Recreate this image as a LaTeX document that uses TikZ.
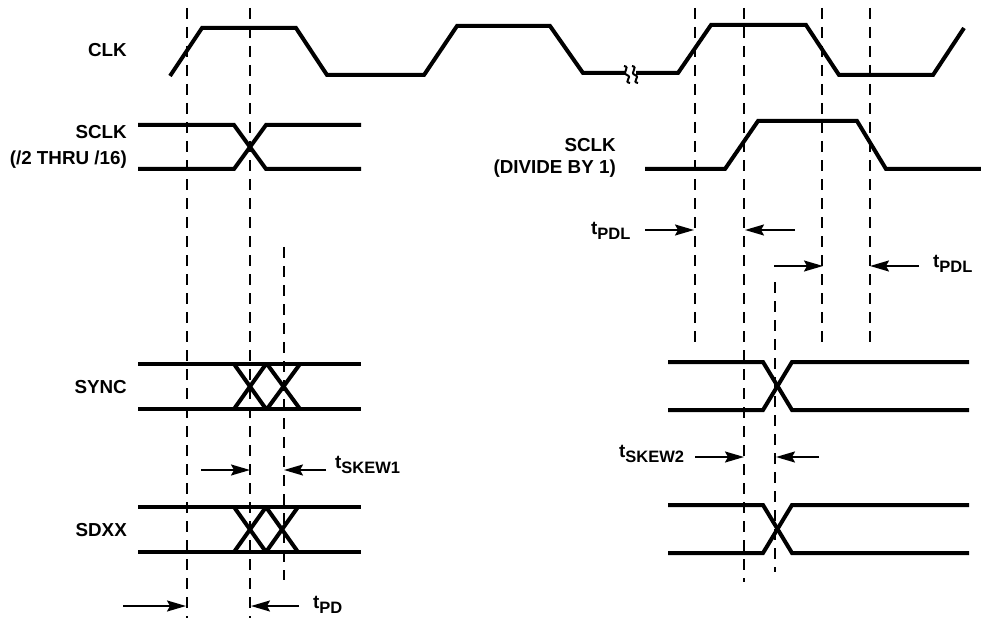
\documentclass[tikz,border=0pt]{standalone}
\usepackage{fontspec}
\setmainfont{Liberation Sans}
\usetikzlibrary{arrows.meta}
\newcommand{\tsub}[1]{t\raisebox{-5bp}{\fontsize{16.5bp}{16.5bp}\selectfont #1}}
\tikzset{
  sig/.style={line width=4bp},
  guide/.style={line width=2bp, dash pattern=on 11bp off 8bp},
  dim/.style={line width=2bp, -{Stealth[length=19bp,width=11bp,inset=3bp]}},
  lab/.style={font=\fontsize{18.8bp}{21bp}\selectfont\bfseries, inner sep=0pt},
  brk/.style={line width=2bp}
}
\begin{document}
\begin{tikzpicture}[x=1bp,y=-1bp]
\useasboundingbox (0,0) rectangle (981,619);
% labels
\node[lab, anchor=base east] (lclk) at (127,57) {CLK};
\node[lab, anchor=base east] (lsclk) at (127,139) {SCLK};
\node[lab, anchor=base east] (lsclkb) at (127,165) {(/2 THRU /16)};
\node[lab, anchor=base east] (lsync) at (127,393) {SYNC};
\node[lab, anchor=base east] (lsdxx) at (127,536) {SDXX};
\node[lab, anchor=base east] (rsclk) at (616,152) {SCLK};
\node[lab, anchor=base east] (rsclkb) at (616,174) {(DIVIDE BY 1)};
\node[lab, anchor=base west] (tpdl1) at (591,235) {\tsub{PDL}};
\node[lab, anchor=base west] (tpdl2) at (933,268) {\tsub{PDL}};
\node[lab, anchor=base west] (tsk1) at (335,468) {\tsub{SKEW1}};
\node[lab, anchor=base west] (tsk2) at (619,457) {\tsub{SKEW2}};
\node[lab, anchor=base west] (tpd) at (313,608) {\tsub{PD}};
% CLK
\draw[sig] (170,76) -- (202,28) -- (296,28) -- (327,75) -- (424,75) -- (457,26) -- (550,26) -- (583,73) -- (625,73);
\draw[sig] (636,73) -- (678,73) -- (711,25) -- (806,25) -- (839,75) -- (933,75) -- (964,28);
\draw[brk] (624,66) .. controls (631,67) and (621,73) .. (627,75) .. controls (633,77) and (623,82) .. (630,83);
\draw[brk] (632,66) .. controls (639,67) and (629,73) .. (635,75) .. controls (641,77) and (631,82) .. (638,83);
% SCLK left
\draw[sig] (138,125) -- (234,125) -- (266,169) -- (361,169);
\draw[sig] (138,169) -- (234,169) -- (266,125) -- (361,125);
% SCLK right
\draw[sig] (645,169) -- (725,169) -- (758,121) -- (857,121) -- (886,169) -- (981,169);
% SYNC left
\draw[sig] (138,364) -- (361,364);
\draw[sig] (138,409) -- (361,409);
\draw[sig] (234,364) -- (266,409) (234,409) -- (266,364) (267,364) -- (300,409) (267,409) -- (300,364);
% SDXX left
\draw[sig] (138,507) -- (361,507);
\draw[sig] (138,552) -- (361,552);
\draw[sig] (234,507) -- (266,552) (234,552) -- (266,507) (266,507) -- (298,552) (266,552) -- (298,507);
% SYNC right
\draw[sig] (668,362) -- (763,362) -- (792,410) -- (969,410);
\draw[sig] (668,410) -- (763,410) -- (792,362) -- (969,362);
% SDXX right
\draw[sig] (668,505) -- (763,505) -- (792,553) -- (969,553);
\draw[sig] (668,553) -- (763,553) -- (792,505) -- (969,505);
% guides
\draw[guide] (187,8) -- (187,618);
\draw[guide] (250,8) -- (250,618);
\draw[guide] (284,247) -- (284,580);
\draw[guide] (695,8) -- (695,342);
\draw[guide] (744,8) -- (744,582);
\draw[guide] (775,282) -- (775,572);
\draw[guide] (822,8) -- (822,347);
\draw[guide] (870,8) -- (870,343);
% dimension arrows
\coordinate (a1s) at (645,230); \coordinate (a1e) at (694,230);
\coordinate (a2s) at (795,230); \coordinate (a2e) at (745,230);
\coordinate (a3s) at (774,266); \coordinate (a3e) at (823,266);
\coordinate (a4s) at (919,266); \coordinate (a4e) at (870,266);
\coordinate (a5s) at (201,470); \coordinate (a5e) at (250,470);
\coordinate (a6s) at (326,470); \coordinate (a6e) at (284,470);
\coordinate (a7s) at (695,457); \coordinate (a7e) at (744,457);
\coordinate (a8s) at (819,457); \coordinate (a8e) at (776,457);
\coordinate (a9s) at (123,606); \coordinate (a9e) at (186,606);
\coordinate (a10s) at (299,606); \coordinate (a10e) at (251,606);
\draw[dim] (a1s) -- (a1e);
\draw[dim] (a2s) -- (a2e);
\draw[dim] (a3s) -- (a3e);
\draw[dim] (a4s) -- (a4e);
\draw[dim] (a5s) -- (a5e);
\draw[dim] (a6s) -- (a6e);
\draw[dim] (a7s) -- (a7e);
\draw[dim] (a8s) -- (a8e);
\draw[dim] (a9s) -- (a9e);
\draw[dim] (a10s) -- (a10e);
\end{tikzpicture}
\end{document}
